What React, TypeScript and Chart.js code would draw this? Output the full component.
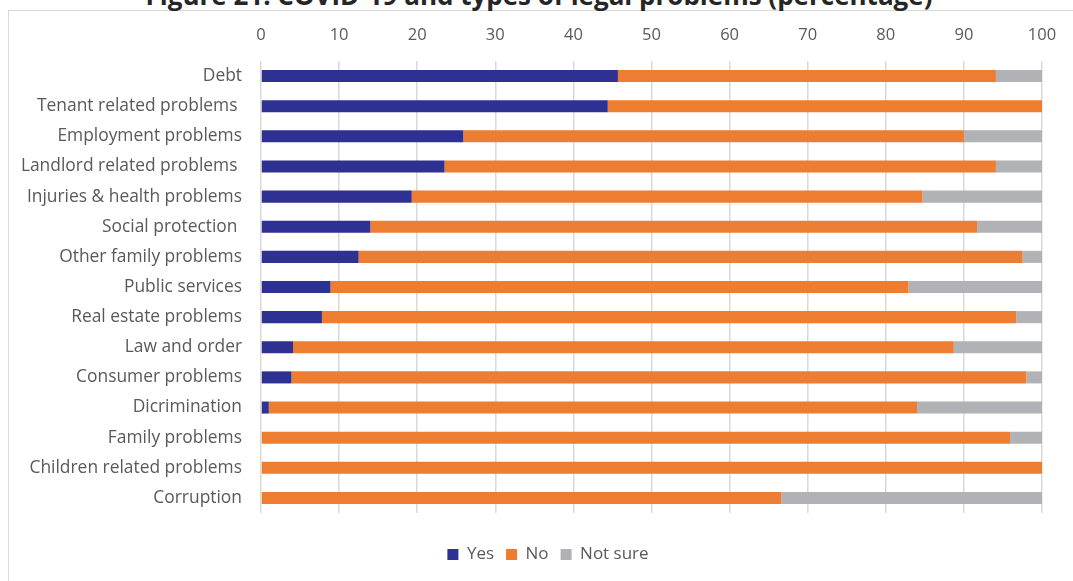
import React, { useEffect, useRef } from "react";
import { Chart, registerables } from "chart.js";

Chart.register(...registerables);

const categories = [
  "Debt",
  "Tenant related problems ",
  "Employment problems",
  "Landlord related problems ",
  "Injuries & health problems",
  "Social protection ",
  "Other family problems",
  "Public services",
  "Real estate problems",
  "Law and order",
  "Consumer problems",
  "Dicrimination",
  "Family problems",
  "Children related problems",
  "Corruption",
];

const yesValues = [45.7, 44.4, 25.9, 23.5, 19.3, 14.0, 12.5, 8.9, 7.8, 4.1, 3.9, 1.0, 0, 0, 0];
const noValues = [48.4, 55.6, 64.1, 70.6, 65.4, 77.7, 85.0, 74.0, 88.9, 84.6, 94.1, 83.0, 95.9, 100, 66.6];
const notSureValues = [5.9, 0, 10.0, 5.9, 15.3, 8.3, 2.5, 17.1, 3.3, 11.3, 2.0, 16.0, 4.1, 0, 33.4];

const seriesNames = ["Yes", "No", "Not sure"];
const titleText = "Figure 21: COVID-19 and types of legal problems (percentage)";

const FONT = "'Open Sans', 'Noto Sans', sans-serif";
const TEXT = "#595959";

const legendShift = {
  id: "legendShift",
  afterLayout(chart: any) {
    if (chart.legend) {
      chart.legend.left += 27;
      chart.legend.right += 27;
    }
  },
};

export default function App() {
  const ref = useRef<HTMLCanvasElement | null>(null);

  useEffect(() => {
    document.body.style.margin = "0";
    if (!ref.current) return;
    const chart = new Chart(ref.current, {
      type: "bar",
      data: {
        labels: categories,
        datasets: [
          { label: seriesNames[0], data: yesValues, backgroundColor: "#2E3192" },
          { label: seriesNames[1], data: noValues, backgroundColor: "#ED7D31" },
          { label: seriesNames[2], data: notSureValues, backgroundColor: "#B1B2B5" },
        ],
      },
      options: {
        indexAxis: "y",
        responsive: false,
        animation: false,
        maintainAspectRatio: false,
        datasets: { bar: { barPercentage: 0.4, categoryPercentage: 1 } },
        layout: { padding: { top: 0, right: 31, left: 0, bottom: 8 } },
        plugins: {
          tooltip: { enabled: false },
          legend: {
            position: "bottom",
            labels: {
              boxWidth: 11,
              boxHeight: 11,
              padding: 12,
              color: TEXT,
              font: { family: FONT, size: 17 },
            },
          },
        },
        scales: {
          x: {
            position: "top",
            stacked: true,
            min: 0,
            max: 100,
            ticks: { stepSize: 10, color: TEXT, font: { family: FONT, size: 16.5 }, padding: 16 },
            grid: { color: "#d9d9d9", lineWidth: 1.5, drawTicks: false },
            border: { display: false },
            afterFit: (s: any) => {
              s.height = 61;
            },
          },
          x2: {
            axis: "x",
            position: "bottom",
            display: true,
            ticks: { display: false },
            grid: { display: false, drawTicks: false },
            border: { display: false },
            afterFit: (s: any) => {
              s.height = 21;
            },
          },
          y: {
            stacked: true,
            ticks: { color: TEXT, font: { family: FONT, size: 17.4 }, padding: 19 },
            grid: { display: false, drawTicks: false },
            border: { display: false },
            afterFit: (s: any) => {
              s.width = 261;
            },
          },
        },
      },
      plugins: [legendShift],
    } as any);
    return () => chart.destroy();
  }, []);

  return (
    <div
      style={{
        position: "fixed",
        left: 0,
        top: 0,
        width: 1073,
        height: 581,
        overflow: "hidden",
        background: "#fff",
      }}
    >
      <div
        style={{
          position: "absolute",
          left: 8,
          top: 10,
          width: 1100,
          height: 620,
          border: "1px solid #d9d9d9",
        }}
      />
      <div
        style={{
          position: "absolute",
          left: 0,
          width: 1078,
          top: -18,
          lineHeight: "26px",
          textAlign: "center",
          fontFamily: FONT,
          fontWeight: 700,
          fontSize: 26,
          color: "#262626",
          whiteSpace: "nowrap",
        }}
      >
        {titleText}
      </div>
      <canvas ref={ref} width={1073} height={581} style={{ position: "absolute", left: 0, top: 0 }} />
    </div>
  );
}
